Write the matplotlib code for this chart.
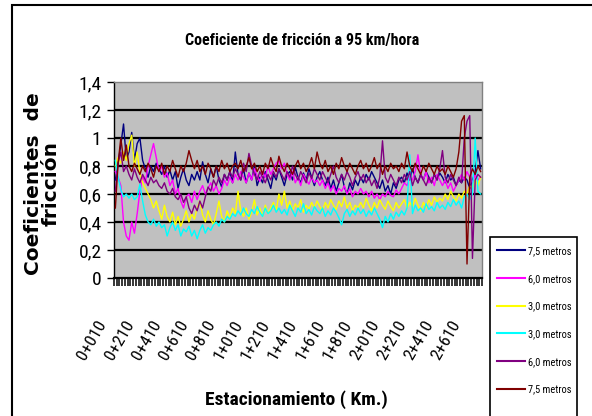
import numpy as np
import matplotlib.pyplot as plt
import matplotlib.transforms as mtransforms
from matplotlib.patches import Rectangle
from matplotlib.lines import Line2D

narrow = ['Roboto Condensed', 'DejaVu Sans']

# readings every 20 m, one axis label every 10 readings
tick_labels = ['0+010', '0+210', '0+410', '0+610', '0+810', '1+010', '1+210',
               '1+410', '1+610', '1+810', '2+010', '2+210', '2+410', '2+610']
label_step = 10

y_ticks = [0, 0.2, 0.4, 0.6, 0.8, 1.0, 1.2, 1.4]
y_tick_labels = ['0', '0,2', '0,4', '0,6', '0,8', '1', '1,2', '1,4']

series_names = ['7,5 metros', '6,0 metros', '3,0 metros', '3,0 metros', '6,0 metros', '7,5 metros']
series_colors = ['#000080', '#FF00FF', '#FFFF00', '#00FFFF', '#800080', '#800000']

blue_75 = [0.70, 0.82, 0.95, 1.10, 0.85, 0.90, 1.04, 0.84, 0.96, 1.00, 0.84, 0.78, 0.72, 0.80, 0.76,
           0.82, 0.78, 0.74, 0.80, 0.72, 0.77, 0.70, 0.76, 0.64, 0.72, 0.78, 0.70, 0.66, 0.74, 0.70,
           0.76, 0.70, 0.83, 0.74, 0.68, 0.78, 0.72, 0.80, 0.70, 0.65, 0.74, 0.70, 0.76, 0.68, 0.90,
           0.74, 0.70, 0.78, 0.68, 0.75, 0.70, 0.80, 0.66, 0.72, 0.68, 0.76, 0.70, 0.64, 0.74, 0.70,
           0.78, 0.72, 0.66, 0.74, 0.76, 0.70, 0.79, 0.72, 0.68, 0.75, 0.70, 0.78, 0.72, 0.66, 0.72,
           0.76, 0.70, 0.66, 0.72, 0.64, 0.70, 0.62, 0.68, 0.74, 0.65, 0.60, 0.68, 0.63, 0.70, 0.66,
           0.72, 0.68, 0.74, 0.70, 0.76, 0.72, 0.68, 0.64, 0.70, 0.62, 0.66, 0.60, 0.68, 0.64, 0.70,
           0.72, 0.68, 0.75, 0.70, 0.78, 0.72, 0.68, 0.74, 0.70, 0.76, 0.72, 0.68, 0.74, 0.70, 0.75,
           0.72, 0.68, 0.74, 0.70, 0.72, 0.66, 0.70, 0.68, 0.72, 0.70, 0.64, 0.70, 0.76, 0.91, 0.78]

magenta_60 = [0.76, 0.72, 0.66, 0.40, 0.30, 0.27, 0.40, 0.32, 0.46, 0.62, 0.72, 0.68, 0.80, 0.88, 0.96,
              0.86, 0.76, 0.80, 0.72, 0.75, 0.66, 0.70, 0.60, 0.64, 0.55, 0.50, 0.58, 0.60, 0.54, 0.62,
              0.56, 0.62, 0.66, 0.60, 0.64, 0.68, 0.62, 0.66, 0.60, 0.64, 0.70, 0.66, 0.72, 0.68, 0.74,
              0.70, 0.76, 0.72, 0.68, 0.75, 0.70, 0.78, 0.73, 0.69, 0.76, 0.72, 0.80, 0.74, 0.78, 0.82,
              0.84, 0.78, 0.82, 0.74, 0.70, 0.76, 0.68, 0.72, 0.66, 0.74, 0.70, 0.67, 0.72, 0.68, 0.70,
              0.66, 0.70, 0.64, 0.68, 0.62, 0.66, 0.60, 0.64, 0.62, 0.66, 0.60, 0.64, 0.58, 0.62, 0.60,
              0.64, 0.60, 0.62, 0.58, 0.62, 0.57, 0.60, 0.56, 0.60, 0.58, 0.62, 0.59, 0.58, 0.63, 0.60,
              0.64, 0.68, 0.66, 0.72, 0.70, 0.76, 0.88, 0.74, 0.70, 0.76, 0.68, 0.72, 0.66, 0.74, 0.70,
              0.66, 0.70, 0.64, 0.68, 0.62, 0.66, 0.70, 0.74, 0.70, 0.76, 0.72, 0.68, 0.74, 0.70, 0.72]

yellow_30 = [0.80, 0.86, 0.82, 0.90, 0.84, 0.96, 1.02, 0.80, 0.90, 0.75, 0.68, 0.64, 0.60, 0.56, 0.50,
             0.55, 0.48, 0.42, 0.52, 0.44, 0.40, 0.47, 0.38, 0.44, 0.37, 0.42, 0.48, 0.40, 0.46, 0.42,
             0.50, 0.55, 0.45, 0.40, 0.48, 0.42, 0.38, 0.46, 0.55, 0.44, 0.40, 0.48, 0.43, 0.50, 0.46,
             0.62, 0.48, 0.44, 0.50, 0.42, 0.47, 0.56, 0.45, 0.50, 0.44, 0.52, 0.46, 0.50, 0.54, 0.48,
             0.60, 0.52, 0.62, 0.50, 0.55, 0.48, 0.53, 0.50, 0.56, 0.47, 0.52, 0.49, 0.54, 0.50, 0.55,
             0.51, 0.48, 0.54, 0.50, 0.56, 0.52, 0.49, 0.55, 0.51, 0.58, 0.50, 0.54, 0.48, 0.52, 0.50,
             0.54, 0.50, 0.57, 0.52, 0.48, 0.54, 0.50, 0.56, 0.52, 0.49, 0.55, 0.51, 0.48, 0.54, 0.50,
             0.53, 0.56, 0.50, 0.54, 0.51, 0.57, 0.52, 0.48, 0.54, 0.50, 0.56, 0.52, 0.58, 0.54, 0.57,
             0.55, 0.60, 0.56, 0.62, 0.58, 0.55, 0.60, 0.57, 0.62, 0.60, 0.66, 0.64, 0.70, 0.66, 0.72]

cyan_30 = [0.84, 0.72, 0.63, 0.58, 0.60, 0.57, 0.60, 0.56, 0.58, 0.67, 0.55, 0.45, 0.40, 0.38, 0.42,
           0.37, 0.40, 0.36, 0.38, 0.30, 0.36, 0.40, 0.34, 0.38, 0.30, 0.35, 0.33, 0.37, 0.30, 0.34,
           0.28, 0.34, 0.38, 0.32, 0.36, 0.34, 0.38, 0.40, 0.37, 0.42, 0.40, 0.44, 0.42, 0.46, 0.44,
           0.48, 0.45, 0.50, 0.46, 0.44, 0.49, 0.46, 0.51, 0.47, 0.44, 0.50, 0.46, 0.48, 0.52, 0.47,
           0.50, 0.46, 0.49, 0.45, 0.52, 0.48, 0.44, 0.50, 0.47, 0.53, 0.46, 0.49, 0.45, 0.51, 0.48,
           0.46, 0.50, 0.44, 0.48, 0.45, 0.50, 0.47, 0.43, 0.38, 0.46, 0.49, 0.44, 0.48, 0.45, 0.50,
           0.46, 0.49, 0.44, 0.48, 0.45, 0.50, 0.46, 0.42, 0.36, 0.44, 0.40, 0.46, 0.42, 0.47, 0.44,
           0.48, 0.45, 0.50, 0.88, 0.46, 0.52, 0.48, 0.50, 0.47, 0.53, 0.49, 0.51, 0.48, 0.54, 0.50,
           0.52, 0.49, 0.54, 0.51, 0.56, 0.52, 0.55, 0.50, 0.58, 0.60, 0.56, 0.60, 1.00, 0.62, 0.60]

purple_60 = [0.62, 0.82, 0.90, 0.76, 0.80, 0.74, 0.70, 0.78, 0.72, 0.68, 0.74, 0.70, 0.66, 0.72, 0.68,
             0.70, 0.66, 0.64, 0.68, 0.62, 0.60, 0.64, 0.58, 0.56, 0.60, 0.54, 0.58, 0.50, 0.46, 0.52,
             0.48, 0.55, 0.50, 0.58, 0.65, 0.62, 0.70, 0.66, 0.72, 0.68, 0.74, 0.70, 0.76, 0.72, 0.78,
             0.74, 0.70, 0.82, 0.76, 0.89, 0.80, 0.74, 0.70, 0.76, 0.72, 0.68, 0.74, 0.70, 0.76, 0.72,
             0.78, 0.74, 0.70, 0.76, 0.72, 0.80, 0.74, 0.70, 0.76, 0.72, 0.68, 0.75, 0.71, 0.78, 0.74,
             0.70, 0.76, 0.72, 0.68, 0.74, 0.80, 0.72, 0.68, 0.74, 0.70, 0.76, 0.72, 0.66, 0.72, 0.76,
             0.70, 0.74, 0.68, 0.72, 0.66, 0.70, 0.64, 0.72, 0.98, 0.72, 0.68, 0.74, 0.70, 0.66, 0.72,
             0.68, 0.74, 0.70, 0.76, 0.66, 0.72, 0.68, 0.74, 0.70, 0.66, 0.72, 0.68, 0.74, 0.70, 0.78,
             0.91, 0.72, 0.68, 0.74, 0.70, 0.66, 0.72, 0.68, 1.00, 1.12, 1.16, 0.14, 0.70, 0.74, 0.72]

red_75 = [0.50, 0.82, 1.00, 0.84, 0.95, 0.80, 0.76, 0.82, 0.78, 0.74, 0.80, 0.76, 0.82, 0.78, 0.72,
          0.80, 0.76, 0.82, 0.74, 0.80, 0.76, 0.84, 0.78, 0.72, 0.80, 0.76, 0.82, 0.91, 0.84, 0.78,
          0.84, 0.76, 0.80, 0.74, 0.82, 0.78, 0.72, 0.80, 0.76, 0.84, 0.78, 0.82, 0.76, 0.80, 0.82,
          0.78, 0.84, 0.76, 0.80, 0.86, 0.78, 0.82, 0.76, 0.80, 0.74, 0.82, 0.78, 0.86, 0.80, 0.76,
          0.87, 0.80, 0.76, 0.82, 0.78, 0.74, 0.80, 0.84, 0.78, 0.82, 0.76, 0.80, 0.86, 0.78, 0.90,
          0.82, 0.78, 0.84, 0.76, 0.80, 0.74, 0.82, 0.78, 0.86, 0.80, 0.76, 0.82, 0.78, 0.74, 0.80,
          0.84, 0.78, 0.82, 0.76, 0.80, 0.86, 0.78, 0.82, 0.74, 0.80, 0.76, 0.82, 0.78, 0.80, 0.76,
          0.82, 0.78, 0.90, 0.80, 0.76, 0.82, 0.78, 0.74, 0.80, 0.76, 0.82, 0.78, 0.74, 0.80, 0.76,
          0.78, 0.74, 0.80, 0.76, 0.72, 0.78, 0.90, 1.12, 1.16, 0.10, 0.72, 0.78, 0.74, 0.80, 0.76]

all_series = [blue_75, magenta_60, yellow_30, cyan_30, purple_60, red_75]
n_points = len(blue_75)

fig = plt.figure(figsize=(5.92, 4.16), dpi=100, facecolor='white')
ax = fig.add_axes([114/592, 1-278/416, 368/592, 196/416])
ax.set_facecolor('#C0C0C0')

x = np.arange(n_points)
for vals, col, name in zip(all_series, series_colors, series_names):
    ax.plot(x, vals, color=col, lw=1.0, label=name, zorder=3)

# black horizontal gridlines
for yv in y_ticks[1:-1]:
    ax.axhline(yv, color='black', lw=1.6, zorder=1)

ax.set_xlim(-0.5, n_points - 0.5)
ax.set_ylim(0, 1.4)

ax.spines['left'].set_color('black')
ax.spines['left'].set_linewidth(1.0)
ax.spines['bottom'].set_color('black')
ax.spines['bottom'].set_linewidth(1.6)
for s in ['top', 'right']:
    ax.spines[s].set_color('#808080')
    ax.spines[s].set_linewidth(1.0)

ax.set_yticks(y_ticks)
ax.set_yticklabels(y_tick_labels, family=narrow, fontsize=14)
ax.tick_params(axis='y', direction='out', length=5, width=1, pad=4)

# dense category ticks along the bottom, station labels placed as rotated texts
ax.set_xticks([])
ax.set_xticks(np.arange(-0.5, n_points, 1), minor=True)
ax.tick_params(axis='x', which='minor', direction='out', length=6, width=1.1, color='black')
label_pos = np.arange(0, n_points, label_step)[:len(tick_labels)]
offset = mtransforms.ScaledTranslation(-0.06, -0.40, fig.dpi_scale_trans)
for pos, lab in zip(label_pos, tick_labels):
    ax.text(pos, 0, lab, transform=ax.get_xaxis_transform() + offset, rotation=60,
            ha='right', va='top', family=narrow, fontsize=12.5, clip_on=False)

fig.text(302/592, 1-40/416, 'Coeficiente de fricción a 95 km/hora', ha='center', va='center',
         fontsize=11.5, fontweight='bold', family=narrow)
fig.text(296/592, 1-400/416, 'Estacionamiento ( Km.)', ha='center', va='center',
         fontsize=14, fontweight='bold', family=narrow)
fig.text(42/592, 1-184/416, 'Coeficientes  de\nfricción', rotation=90, ha='center', va='center',
         multialignment='center', fontsize=14.5, fontweight='bold', family='DejaVu Sans', linespacing=0.92)

# outer chart frame (runs off the right and bottom edge)
fig.add_artist(Rectangle((12/592, -0.1), 1.0, 1.1 - 5/416, transform=fig.transFigure,
                         fill=False, ec='black', lw=1.5, clip_on=False))
# legend frame
fig.add_artist(Rectangle((490/592, -0.1), 87/592, 1.1 - 237/416, transform=fig.transFigure,
                         fill=False, ec='black', lw=1.2, clip_on=False))

handles = [Line2D([0], [0], color=c, lw=1.5) for c in series_colors]
fig.legend(handles, series_names, loc='upper left', bbox_to_anchor=(497/592, 1-246/416),
           frameon=False, prop=dict(family=narrow, size=7.5), handlelength=2.7,
           handletextpad=0.25, labelspacing=1.7, borderaxespad=0, borderpad=0)

plt.savefig('out.png', dpi=100)
